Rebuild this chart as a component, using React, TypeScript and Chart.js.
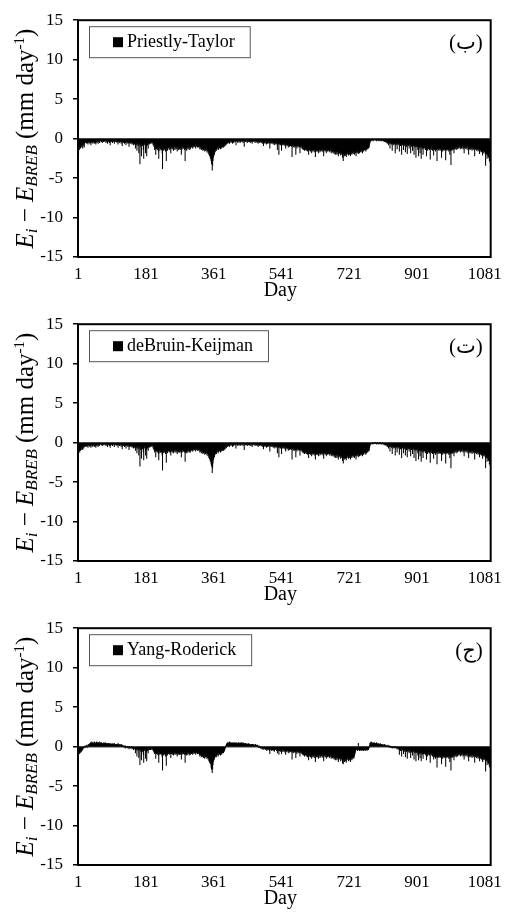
import { useEffect, useRef } from 'react';
import { Chart, registerables } from 'chart.js';

Chart.register(...registerables);

const SERIF = '"Liberation Serif", "Times New Roman", serif';
const TAG_FONT = '"Liberation Serif", "DejaVu Sans", serif';

// x-axis labels shown every 180 days
const dayTicks = [1, 181, 361, 541, 721, 901, 1081];

// Daily differences E_i - E_BREB, in tenths of mm/day, one array per year of record.

// Priestly-Taylor
const ptYear1 = [
  -15,-18,-12,-14,-10,-9,-12,-8,-11,-7,
  -10,-6,-12,-8,-5,-9,-11,-6,-4,-5,
  -3,-5,-4,-6,-3,-5,-7,-4,-3,-5,
  -4,-6,-3,-5,-8,-4,-3,-5,-4,-6,
  -3,-4,-5,-3,-6,-4,-5,-7,-3,-4,
  -5,-3,-4,-6,-3,-2,-4,-5,-3,-2,
  -3,-2,-4,-3,-5,-2,-3,-4,-2,-3,
  -2,-4,-3,-2,-5,-3,-2,-4,-6,-3,
  -4,-2,-3,-5,-3,-8,-4,-2,-3,-4,
  -3,-5,-2,-4,-3,-2,-6,-3,-4,-2,
  -3,-4,-2,-5,-3,-4,-7,-3,-2,-4,
  -5,-3,-4,-2,-6,-4,-3,-9,-4,-5,
  -3,-5,-4,-6,-3,-4,-5,-8,-4,-3,
  -5,-4,-6,-3,-5,-10,-4,-6,-5,-4,
  -6,-5,-4,-7,-5,-6,-4,-8,-5,-6,
  -7,-5,-12,-6,-8,-5,-15,-7,-6,-9,
  -6,-18,-8,-5,-32,-7,-10,-6,-22,-8,
  -5,-9,-6,-14,-25,-7,-5,-8,-6,-18,
  -7,-10,-22,-6,-8,-5,-12,-6,-4,-7,
  -5,-4,-6,-3,-5,-4,-6,-3,-5,-8,
  -6,-10,-8,-14,-9,-12,-20,-10,-13,-9,
  -11,-14,-10,-16,-25,-12,-10,-15,-11,-13,
  -10,-14,-12,-18,-38,-13,-11,-15,-10,-12,
  -14,-11,-16,-12,-28,-10,-13,-15,-11,-9,
  -12,-10,-14,-11,-9,-13,-18,-10,-12,-11,
  -9,-13,-11,-15,-10,-12,-9,-14,-11,-10,
  -13,-10,-12,-16,-11,-9,-14,-12,-10,-13,
  -11,-14,-10,-12,-20,-11,-13,-9,-12,-10,
  -12,-10,-14,-11,-28,-13,-10,-12,-15,-11,
  -10,-13,-11,-9,-12,-14,-10,-11,-13,-9,
  -8,-11,-7,-10,-12,-8,-9,-11,-7,-10,
  -9,-7,-12,-8,-10,-6,-9,-11,-8,-10,
  -11,-8,-10,-13,-9,-12,-10,-14,-11,-13,
  -12,-15,-11,-14,-13,-10,-16,-12,-15,-13,
  -14,-12,-17,-15,-13,-18,-16,-20,-17,-22,
  -19,-25,-22,-28,-32,-30,-40,-34,-28,-24,
  -22,-18,-20,-15,-17,
];
const ptYear2 = [
  -14,-12,-15,-11,-13,-10,-12,-14,-11,-9,
  -12,-10,-11,-13,-9,-10,-12,-8,-11,-10,
  -9,-11,-8,-10,-7,-9,-6,-8,-5,-7,
  -5,-4,-6,-3,-5,-4,-3,-6,-4,-2,
  -3,-5,-2,-4,-3,-6,-2,-3,-5,-4,
  -2,-3,-4,-2,-8,-3,-2,-4,-3,-5,
  -3,-2,-4,-3,-2,-5,-3,-4,-2,-3,
  -4,-2,-3,-5,-2,-3,-10,-3,-2,-4,
  -3,-4,-2,-3,-5,-3,-2,-4,-3,-2,
  -4,-3,-5,-2,-3,-4,-2,-6,-3,-4,
  -2,-3,-4,-2,-3,-5,-3,-2,-4,-3,
  -5,-3,-4,-6,-3,-2,-4,-5,-3,-4,
  -3,-5,-4,-2,-6,-4,-3,-9,-4,-5,
  -4,-6,-3,-5,-4,-7,-5,-3,-6,-4,
  -5,-3,-6,-4,-12,-5,-4,-6,-3,-5,
  -6,-4,-5,-7,-4,-6,-5,-8,-4,-6,
  -5,-7,-4,-6,-14,-5,-7,-6,-20,-5,
  -7,-6,-8,-5,-7,-15,-6,-8,-5,-7,
  -6,-8,-7,-5,-9,-6,-12,-7,-8,-6,
  -9,-7,-8,-11,-7,-9,-10,-8,-7,-9,
  -8,-10,-7,-23,-9,-8,-11,-7,-10,-9,
  -11,-8,-9,-20,-10,-8,-12,-9,-7,-10,
  -9,-11,-8,-10,-18,-9,-11,-10,-8,-12,
  -10,-13,-11,-14,-12,-10,-15,-13,-11,-14,
  -12,-15,-13,-11,-16,-14,-12,-20,-13,-15,
  -14,-12,-16,-13,-15,-18,-12,-14,-16,-13,
  -15,-13,-17,-14,-12,-23,-15,-13,-16,-14,
  -13,-16,-14,-18,-15,-12,-14,-17,-13,-15,
  -16,-14,-12,-15,-13,-17,-14,-22,-15,-13,
  -14,-16,-13,-15,-18,-14,-12,-16,-15,-13,
  -15,-13,-17,-14,-16,-12,-15,-18,-14,-16,
  -17,-15,-18,-16,-14,-19,-17,-15,-20,-16,
  -18,-16,-20,-17,-15,-19,-22,-17,-16,-18,
  -19,-17,-21,-18,-16,-20,-18,-24,-19,-28,
  -20,-18,-22,-19,-17,-21,-19,-23,-18,-20,
  -17,-19,-16,-21,-18,-20,-17,-19,-22,-18,
  -19,-17,-20,-18,-16,
];
const ptYear3 = [
  -18,-16,-19,-17,-20,-15,-18,-16,-22,-17,
  -16,-18,-15,-17,-19,-14,-16,-18,-15,-17,
  -15,-17,-14,-16,-13,-18,-15,-14,-16,-13,
  -14,-12,-15,-13,-16,-12,-14,-11,-13,-12,
  -10,-12,-9,-11,-7,-5,-3,-2,-3,-2,
  -1,-2,-1,-3,-2,-1,-2,-1,-1,-2,
  -1,-2,-3,-1,-2,-1,-2,-3,-1,-2,
  -2,-1,-3,-2,-1,-2,-3,-2,-1,-3,
  -2,-3,-2,-4,-3,-2,-4,-3,-5,-3,
  -4,-6,-3,-5,-8,-4,-6,-5,-12,-4,
  -6,-5,-7,-4,-15,-6,-5,-8,-6,-4,
  -7,-5,-18,-6,-8,-5,-7,-13,-6,-5,
  -8,-6,-5,-16,-7,-6,-9,-5,-7,-20,
  -6,-8,-5,-7,-14,-6,-9,-7,-5,-17,
  -8,-6,-10,-7,-19,-8,-6,-9,-7,-12,
  -7,-9,-6,-18,-8,-10,-7,-9,-15,-8,
  -9,-7,-20,-10,-8,-11,-9,-24,-8,-10,
  -11,-9,-14,-10,-22,-9,-12,-10,-18,-11,
  -10,-25,-11,-9,-13,-10,-20,-12,-11,-9,
  -12,-10,-14,-11,-13,-22,-10,-12,-15,-11,
  -13,-11,-10,-14,-12,-26,-11,-13,-10,-14,
  -12,-15,-11,-13,-21,-12,-14,-11,-13,-16,
  -11,-14,-12,-28,-13,-11,-15,-12,-14,-10,
  -13,-15,-12,-14,-11,-24,-13,-12,-16,-11,
  -14,-12,-15,-13,-11,-14,-27,-12,-13,-15,
  -12,-14,-11,-13,-16,-12,-14,-20,-13,-15,
  -33,-14,-12,-15,-13,-11,-14,-12,-18,-13,
  -11,-13,-10,-12,-14,-11,-9,-13,-10,-12,
  -10,-12,-9,-11,-8,-13,-10,-9,-12,-10,
  -11,-9,-13,-10,-12,-18,-11,-9,-12,-10,
  -13,-10,-12,-11,-9,-14,-12,-20,-10,-13,
  -11,-14,-12,-10,-13,-11,-15,-12,-10,-14,
  -12,-13,-11,-22,-14,-12,-13,-11,-15,-12,
  -14,-12,-16,-13,-11,-15,-19,-13,-14,-16,
  -13,-17,-15,-14,-21,-16,-14,-18,-15,-17,
  -16,-19,-34,-17,-20,-18,-25,-19,-22,-18,
  -24,-20,-28,-22,-30,-26,
];

// deBruin-Keijman
const dbkYear1 = [
  -12,-10,-11,-9,-12,-8,-10,-7,-9,-6,
  -8,-5,-9,-6,-4,-7,-5,-4,-3,-5,
  -3,-4,-2,-5,-3,-4,-6,-3,-2,-4,
  -3,-5,-2,-4,-6,-3,-2,-4,-3,-5,
  -2,-3,-4,-2,-5,-3,-4,-6,-2,-3,
  -4,-2,-3,-5,-2,-1,-3,-4,-2,-1,
  -2,-1,-3,-2,-4,-1,-2,-3,-1,-2,
  -1,-3,-2,-1,-4,-2,-1,-3,-5,-2,
  -3,-1,-2,-4,-2,-6,-3,-1,-2,-3,
  -2,-4,-1,-3,-2,-1,-5,-2,-3,-1,
  -2,-3,-1,-4,-2,-3,-6,-2,-1,-3,
  -4,-2,-3,-1,-5,-3,-2,-8,-3,-4,
  -2,-4,-3,-5,-2,-3,-4,-7,-3,-2,
  -4,-3,-5,-2,-4,-9,-3,-5,-4,-3,
  -5,-4,-3,-6,-4,-5,-3,-7,-4,-5,
  -6,-4,-10,-5,-7,-4,-13,-6,-5,-8,
  -5,-16,-7,-4,-30,-6,-9,-5,-20,-7,
  -4,-8,-5,-12,-22,-6,-4,-7,-5,-16,
  -6,-9,-20,-5,-7,-4,-10,-5,-3,-6,
  -4,-3,-5,-2,-4,-3,-5,-2,-4,-7,
  -5,-9,-7,-12,-8,-10,-18,-9,-11,-8,
  -10,-12,-9,-14,-22,-11,-9,-13,-10,-12,
  -9,-12,-11,-16,-35,-12,-10,-13,-9,-11,
  -12,-10,-14,-11,-25,-9,-12,-13,-10,-8,
  -11,-9,-12,-10,-8,-12,-16,-9,-11,-10,
  -8,-12,-10,-13,-9,-11,-8,-12,-10,-9,
  -12,-9,-11,-14,-10,-8,-12,-11,-9,-12,
  -10,-12,-9,-11,-18,-10,-12,-8,-11,-9,
  -11,-9,-12,-10,-24,-12,-9,-11,-13,-10,
  -9,-12,-10,-8,-11,-12,-9,-10,-12,-8,
  -7,-10,-6,-9,-11,-7,-8,-10,-6,-9,
  -8,-6,-11,-7,-9,-5,-8,-10,-7,-9,
  -10,-7,-9,-12,-8,-11,-9,-13,-10,-12,
  -11,-14,-10,-13,-12,-9,-15,-11,-14,-12,
  -13,-11,-16,-14,-12,-17,-15,-19,-16,-21,
  -18,-24,-21,-27,-30,-29,-38,-32,-26,-22,
  -20,-16,-18,-14,-15,
];
const dbkYear2 = [
  -13,-11,-14,-10,-12,-9,-11,-13,-10,-8,
  -11,-9,-10,-12,-8,-9,-11,-7,-10,-9,
  -8,-10,-7,-9,-6,-8,-5,-7,-4,-6,
  -4,-3,-5,-2,-4,-3,-2,-5,-3,-1,
  -2,-4,-1,-3,-2,-5,-1,-2,-4,-3,
  -1,-2,-3,-1,-7,-2,-1,-3,-2,-4,
  -2,-1,-3,-2,-1,-4,-2,-3,-1,-2,
  -3,-1,-2,-4,-1,-2,-9,-2,-1,-3,
  -2,-3,-1,-2,-4,-2,-1,-3,-2,-1,
  -3,-2,-4,-1,-2,-3,-1,-5,-2,-3,
  -1,-2,-3,-1,-2,-4,-2,-1,-3,-2,
  -4,-2,-3,-5,-2,-1,-3,-4,-2,-3,
  -2,-4,-3,-1,-5,-3,-2,-8,-3,-4,
  -3,-5,-2,-4,-3,-6,-4,-2,-5,-3,
  -4,-2,-5,-3,-11,-4,-3,-5,-2,-4,
  -5,-3,-4,-6,-3,-5,-4,-7,-3,-5,
  -4,-6,-3,-5,-13,-4,-6,-5,-18,-4,
  -6,-5,-7,-4,-6,-14,-5,-7,-4,-6,
  -5,-7,-6,-4,-8,-5,-11,-6,-7,-5,
  -8,-6,-7,-10,-6,-8,-9,-7,-6,-8,
  -7,-9,-6,-21,-8,-7,-10,-6,-9,-8,
  -10,-7,-8,-18,-9,-7,-11,-8,-6,-9,
  -8,-10,-7,-9,-16,-8,-10,-9,-7,-11,
  -9,-12,-10,-13,-11,-9,-14,-12,-10,-13,
  -11,-14,-12,-10,-15,-13,-11,-19,-12,-14,
  -13,-11,-15,-12,-14,-17,-11,-13,-15,-12,
  -14,-12,-16,-13,-11,-21,-14,-12,-15,-13,
  -12,-15,-13,-17,-14,-11,-13,-16,-12,-14,
  -15,-13,-11,-14,-12,-16,-13,-20,-14,-12,
  -13,-15,-12,-14,-17,-13,-11,-15,-14,-12,
  -14,-12,-16,-13,-15,-11,-14,-17,-13,-15,
  -16,-14,-17,-15,-13,-18,-16,-14,-19,-15,
  -17,-15,-19,-16,-14,-18,-21,-16,-15,-17,
  -18,-16,-20,-17,-15,-19,-17,-23,-18,-26,
  -19,-17,-21,-18,-16,-20,-18,-22,-17,-19,
  -16,-18,-15,-20,-17,-19,-16,-18,-21,-17,
  -18,-16,-19,-17,-15,
];
const dbkYear3 = [
  -17,-15,-18,-16,-19,-14,-17,-15,-21,-16,
  -15,-17,-14,-16,-18,-13,-15,-17,-14,-16,
  -14,-16,-13,-15,-12,-17,-14,-13,-15,-12,
  -13,-11,-14,-12,-15,-11,-13,-10,-12,-11,
  -9,-11,-8,-10,-6,-4,-2,-1,-2,-1,
  -1,-1,0,-2,-1,-1,-1,0,-1,-1,
  0,-1,-2,-1,-1,0,-1,-2,-1,-1,
  -1,0,-2,-1,-1,-1,-2,-1,0,-2,
  -1,-2,-1,-3,-2,-1,-3,-2,-4,-2,
  -3,-5,-2,-4,-7,-3,-5,-4,-11,-3,
  -5,-4,-6,-3,-14,-5,-4,-7,-5,-3,
  -6,-4,-16,-5,-7,-4,-6,-12,-5,-4,
  -7,-5,-4,-15,-6,-5,-8,-4,-6,-19,
  -5,-7,-4,-6,-13,-5,-8,-6,-4,-16,
  -7,-5,-9,-6,-18,-7,-5,-8,-6,-11,
  -6,-8,-5,-17,-7,-9,-6,-8,-14,-7,
  -8,-6,-19,-9,-7,-10,-8,-23,-7,-9,
  -10,-8,-13,-9,-21,-8,-11,-9,-17,-10,
  -9,-24,-10,-8,-12,-9,-19,-11,-10,-8,
  -11,-9,-13,-10,-12,-21,-9,-11,-14,-10,
  -12,-10,-9,-13,-11,-25,-10,-12,-9,-13,
  -11,-14,-10,-12,-20,-11,-13,-10,-12,-15,
  -10,-13,-11,-27,-12,-10,-14,-11,-13,-9,
  -12,-14,-11,-13,-10,-23,-12,-11,-15,-10,
  -13,-11,-14,-12,-10,-13,-26,-11,-12,-14,
  -11,-13,-10,-12,-15,-11,-13,-19,-12,-14,
  -32,-13,-11,-14,-12,-10,-13,-11,-17,-12,
  -10,-12,-9,-11,-13,-10,-8,-12,-9,-11,
  -9,-11,-8,-10,-7,-12,-9,-8,-11,-9,
  -10,-8,-12,-9,-11,-17,-10,-8,-11,-9,
  -12,-9,-11,-10,-8,-13,-11,-19,-9,-12,
  -10,-13,-11,-9,-12,-10,-14,-11,-9,-13,
  -11,-12,-10,-21,-13,-11,-12,-10,-14,-11,
  -13,-11,-15,-12,-10,-14,-18,-12,-13,-15,
  -12,-16,-14,-13,-20,-15,-13,-17,-14,-16,
  -15,-18,-32,-16,-19,-17,-24,-18,-21,-17,
  -23,-19,-27,-21,-29,-25,
];

// Yang-Roderick
const yrYear1 = [
  -8,-10,-7,-9,-6,-8,-5,-7,-4,-6,
  -5,-3,-4,-2,-1,-2,0,-1,1,0,
  -1,1,0,2,1,-1,2,1,3,2,
  3,4,2,5,3,4,6,3,5,4,
  5,3,4,6,4,5,3,4,5,6,
  4,5,3,4,5,4,6,3,4,5,
  3,4,5,3,4,2,4,3,5,4,
  4,3,5,4,3,4,2,4,3,4,
  3,4,2,3,4,3,2,4,3,3,
  2,3,4,3,2,3,4,2,3,2,
  3,2,3,1,3,2,4,2,3,2,
  2,3,1,2,3,2,1,0,2,1,
  1,0,-1,1,0,-2,1,0,-1,0,
  -1,0,-2,-1,0,-3,-1,0,-2,-1,
  -2,-1,0,-3,-1,-2,-1,-4,-2,-1,
  -3,-2,-8,-3,-4,-2,-12,-3,-4,-5,
  -3,-14,-4,-3,-23,-4,-6,-3,-17,-5,
  -3,-6,-4,-10,-20,-4,-3,-5,-4,-15,
  -4,-6,-18,-3,-5,-3,-8,-4,-2,-4,
  -3,-2,-4,-2,-3,-2,-4,-2,-3,-5,
  -4,-7,-6,-9,-6,-8,-15,-7,-9,-6,
  -8,-10,-7,-11,-20,-9,-7,-10,-8,-9,
  -7,-10,-8,-13,-30,-9,-8,-11,-7,-9,
  -10,-8,-12,-9,-24,-7,-9,-11,-8,-6,
  -9,-7,-10,-8,-6,-9,-14,-7,-9,-8,
  -7,-10,-8,-11,-7,-9,-6,-10,-8,-7,
  -10,-7,-9,-12,-8,-6,-10,-9,-7,-10,
  -8,-10,-7,-9,-16,-8,-10,-6,-9,-7,
  -9,-7,-10,-8,-20,-10,-7,-9,-11,-8,
  -7,-10,-8,-6,-9,-11,-7,-8,-10,-6,
  -6,-9,-5,-8,-10,-6,-7,-9,-5,-8,
  -7,-5,-10,-6,-8,-4,-7,-9,-6,-8,
  -9,-7,-10,-12,-8,-11,-9,-13,-10,-12,
  -11,-13,-10,-14,-12,-10,-15,-11,-13,-12,
  -13,-11,-15,-14,-12,-16,-14,-18,-16,-20,
  -17,-22,-20,-26,-29,-27,-33,-28,-23,-19,
  -17,-14,-16,-12,-13,
];
const yrYear2 = [
  -12,-10,-13,-9,-11,-8,-10,-12,-9,-7,
  -10,-8,-9,-11,-7,-8,-10,-6,-8,-7,
  -6,-8,-5,-6,-4,-3,-1,1,2,3,
  4,3,5,4,3,5,4,6,3,4,
  5,3,4,5,3,4,5,3,4,5,
  4,3,5,4,3,4,5,3,4,3,
  4,5,3,4,3,5,4,3,4,5,
  3,4,3,5,4,3,4,3,2,4,
  3,2,3,4,2,3,2,3,4,2,
  3,2,3,2,1,3,2,2,3,1,
  2,3,1,2,1,2,3,1,2,1,
  1,2,0,1,-1,0,1,-1,0,-2,
  -1,-2,-1,-3,-1,-2,-4,-2,-1,-3,
  -2,-3,-1,-4,-2,-3,-5,-2,-3,-4,
  -2,-4,-3,-5,-9,-3,-2,-4,-3,-5,
  -3,-4,-2,-5,-3,-4,-6,-3,-4,-2,
  -4,-3,-5,-2,-8,-4,-3,-5,-10,-3,
  -5,-4,-6,-3,-5,-9,-4,-6,-3,-5,
  -4,-6,-5,-3,-7,-4,-10,-5,-6,-4,
  -6,-4,-5,-8,-5,-6,-7,-5,-4,-6,
  -5,-7,-4,-16,-6,-5,-8,-4,-7,-6,
  -7,-5,-6,-14,-7,-5,-9,-6,-4,-7,
  -6,-8,-5,-7,-12,-6,-8,-7,-5,-9,
  -7,-10,-8,-11,-9,-7,-12,-10,-8,-11,
  -9,-12,-10,-8,-13,-11,-9,-17,-10,-12,
  -11,-9,-13,-10,-12,-15,-9,-11,-13,-10,
  -12,-10,-14,-11,-9,-19,-12,-10,-13,-11,
  -10,-13,-11,-15,-12,-9,-11,-14,-10,-12,
  -13,-11,-9,-12,-10,-14,-11,-18,-12,-10,
  -11,-13,-10,-12,-15,-11,-9,-13,-12,-10,
  -12,-10,-14,-11,-13,-9,-12,-15,-11,-13,
  -14,-12,-15,-13,-11,-16,-14,-12,-17,-13,
  -15,-13,-17,-14,-12,-16,-19,-14,-13,-15,
  -16,-14,-18,-15,-13,-17,-15,-21,-16,-22,
  -17,-15,-19,-16,-14,-18,-16,-20,-15,-17,
  -14,-16,-13,-18,-15,-17,-14,-16,-19,-15,
  -16,-14,-17,-15,-13,
];
const yrYear3 = [
  -14,-12,-15,-13,-11,-9,-7,-5,-4,-3,
  -4,-3,-5,-4,4,-4,-3,-5,-4,-3,
  -4,-5,-3,-4,-5,-3,-4,-3,-5,-4,
  -3,-4,-5,-3,-4,-3,-4,-5,-3,-4,
  -3,-4,-2,-1,2,4,5,3,6,4,
  5,3,4,5,3,4,5,4,3,4,
  3,4,5,3,4,3,2,4,3,3,
  2,3,4,2,3,2,3,2,1,3,
  2,1,2,3,1,2,1,2,0,1,
  1,0,1,2,0,1,-1,0,1,0,
  -1,0,-1,0,-2,-1,0,-1,-1,0,
  -1,-2,-1,0,-1,-2,-1,-3,-2,-1,
  -3,-2,-4,-10,-3,-2,-5,-3,-2,-12,
  -3,-4,-2,-5,-9,-3,-6,-4,-2,-13,
  -4,-3,-6,-4,-15,-5,-3,-6,-4,-8,
  -4,-6,-3,-14,-5,-7,-4,-6,-11,-5,
  -6,-4,-16,-7,-5,-8,-6,-18,-5,-7,
  -8,-6,-11,-7,-17,-6,-9,-7,-14,-8,
  -7,-18,-8,-6,-10,-7,-15,-9,-8,-6,
  -9,-7,-11,-8,-10,-17,-7,-9,-12,-8,
  -10,-8,-7,-11,-9,-20,-8,-10,-7,-11,
  -9,-12,-8,-10,-16,-11,-13,-10,-12,-15,
  -11,-13,-12,-26,-13,-11,-14,-12,-13,-10,
  -12,-14,-11,-13,-10,-22,-12,-11,-15,-10,
  -13,-11,-14,-12,-10,-13,-25,-11,-12,-14,
  -11,-13,-10,-12,-15,-11,-13,-19,-12,-14,
  -30,-13,-11,-14,-12,-10,-13,-11,-17,-12,
  -10,-12,-9,-11,-13,-10,-8,-12,-9,-11,
  -9,-11,-8,-10,-7,-12,-9,-8,-11,-9,
  -10,-8,-12,-9,-11,-16,-10,-8,-11,-9,
  -12,-9,-11,-10,-8,-13,-11,-18,-9,-12,
  -10,-13,-11,-9,-12,-10,-14,-11,-9,-13,
  -11,-12,-10,-20,-13,-11,-12,-10,-14,-11,
  -13,-11,-15,-12,-10,-14,-18,-12,-13,-15,
  -12,-16,-14,-13,-19,-15,-13,-17,-14,-16,
  -15,-17,-31,-16,-18,-16,-23,-17,-20,-16,
  -22,-18,-25,-20,-27,-23,
];

const tenthsToMm = (arr: number[]) => arr.map((v) => v / 10);

const ptValues = tenthsToMm([...ptYear1, ...ptYear2, ...ptYear3]);
const dbkValues = tenthsToMm([...dbkYear1, ...dbkYear2, ...dbkYear3]);
const yrValues = tenthsToMm([...yrYear1, ...yrYear2, ...yrYear3]);

const dayCount = Math.max(ptValues.length, dbkValues.length, yrValues.length);
const days = Array.from({ length: dayCount }, (_, i) => i + 1);

const panels = [
  { name: 'Priestly-Taylor', tag: '(ب)', values: ptValues },
  { name: 'deBruin-Keijman', tag: '(ت)', values: dbkValues },
  { name: 'Yang-Roderick', tag: '(ج)', values: yrValues },
];

const WIDTH = 509;
const HEIGHT = 304;

// Rotated y-axis title with italic symbols, subscripts and a superscript
function drawYTitle(ctx: CanvasRenderingContext2D, cx: number, cy: number) {
  const big = 25;
  const small = 17;
  const sup = 15;
  const parts = [
    { t: 'E', f: `italic ${big}px ${SERIF}`, dy: 0 },
    { t: 'i', f: `italic ${small}px ${SERIF}`, dy: 4 },
    { t: ' \u2212 ', f: `${big}px ${SERIF}`, dy: 0 },
    { t: 'E', f: `italic ${big}px ${SERIF}`, dy: 0 },
    { t: 'BREB', f: `italic ${small}px ${SERIF}`, dy: 4 },
    { t: ' (mm day', f: `${big}px ${SERIF}`, dy: 0 },
    { t: '-1', f: `${sup}px ${SERIF}`, dy: -9 },
    { t: ')', f: `${big}px ${SERIF}`, dy: 0 },
  ];
  let total = 0;
  const widths = parts.map((p) => {
    ctx.font = p.f;
    const w = ctx.measureText(p.t).width;
    total += w;
    return w;
  });
  ctx.save();
  ctx.translate(cx, cy);
  ctx.rotate(-Math.PI / 2);
  ctx.fillStyle = '#000';
  ctx.textAlign = 'left';
  ctx.textBaseline = 'alphabetic';
  let x = -total / 2;
  parts.forEach((p, i) => {
    ctx.font = p.f;
    ctx.fillText(p.t, x, p.dy);
    x += widths[i];
  });
  ctx.restore();
}

function makeDecor(tag: string) {
  return {
    id: 'decor',
    afterDraw(chart: Chart) {
      const { ctx, chartArea: a } = chart;
      ctx.save();

      // plot frame
      ctx.strokeStyle = '#000';
      ctx.lineWidth = 2;
      ctx.strokeRect(a.left, a.top, a.right - a.left, a.bottom - a.top);

      // legend box
      const label = String(chart.data.datasets[0].label);
      ctx.font = `18px ${SERIF}`;
      const tw = ctx.measureText(label).width;
      const bx = a.left + 11;
      const by = a.top + 6;
      const bh = 31;
      const mx = bx + 24;
      const tx = mx + 14;
      const bw = tx + tw + 15 - bx;
      ctx.strokeStyle = '#555';
      ctx.lineWidth = 1;
      ctx.strokeRect(bx + 0.5, by + 0.5, bw, bh);
      ctx.fillStyle = '#000';
      ctx.fillRect(mx, by + 11, 10, 10);
      ctx.textAlign = 'left';
      ctx.textBaseline = 'alphabetic';
      ctx.fillText(label, tx, by + 21);

      // panel tag
      ctx.font = `21px ${TAG_FONT}`;
      ctx.textAlign = 'right';
      ctx.fillText(tag, a.right - 8, a.top + 29);

      // x-axis title
      ctx.font = `20px ${SERIF}`;
      ctx.textAlign = 'center';
      ctx.fillText('Day', (a.left + a.right) / 2 - 4, a.bottom + 39);

      ctx.restore();

      drawYTitle(ctx, 33, (a.top + a.bottom) / 2);
    },
  };
}

function Panel({ name, tag, values }: { name: string; tag: string; values: number[] }) {
  const ref = useRef<HTMLCanvasElement>(null);

  useEffect(() => {
    if (!ref.current) return;
    const chart = new Chart(ref.current, {
      type: 'bar',
      data: {
        labels: days,
        datasets: [
          {
            label: name,
            data: values,
            backgroundColor: '#000',
            borderWidth: 0,
            barPercentage: 1,
            categoryPercentage: 1,
          },
        ],
      },
      options: {
        responsive: false,
        animation: false,
        devicePixelRatio: 1,
        layout: { padding: { top: 16, right: 11, left: 0, bottom: 0 } },
        plugins: {
          legend: { display: false },
          tooltip: { enabled: false },
        },
        scales: {
          x: {
            grid: { display: false, drawTicks: false },
            border: { display: false },
            ticks: {
              autoSkip: false,
              maxRotation: 0,
              minRotation: 0,
              padding: 7,
              color: '#000',
              font: { family: SERIF, size: 17 },
              callback: (_v: any, i: number) => (dayTicks.includes(days[i]) ? String(days[i]) : null),
            },
            afterFit: (s: any) => {
              s.height = 47;
            },
          },
          y: {
            min: -15,
            max: 15,
            ticks: {
              stepSize: 5,
              padding: 10,
              color: '#000',
              font: { family: SERIF, size: 17 },
            },
            grid: {
              color: (c: any) => (c.tick && c.tick.value === 0 ? '#444' : 'rgba(0,0,0,0)'),
              lineWidth: 1.5,
              tickColor: '#000',
              tickLength: 5,
              tickWidth: 1.5,
            },
            border: { display: false },
            afterFit: (s: any) => {
              s.width = 78;
            },
          },
        },
      },
      plugins: [makeDecor(tag)],
    });
    return () => chart.destroy();
  }, [name, tag, values]);

  return <canvas ref={ref} width={WIDTH} height={HEIGHT} style={{ display: 'block' }} />;
}

export default function App() {
  return (
    <div style={{ position: 'absolute', left: 0, top: 0, width: WIDTH, background: '#fff' }}>
      {panels.map((p) => (
        <Panel key={p.name} name={p.name} tag={p.tag} values={p.values} />
      ))}
    </div>
  );
}
